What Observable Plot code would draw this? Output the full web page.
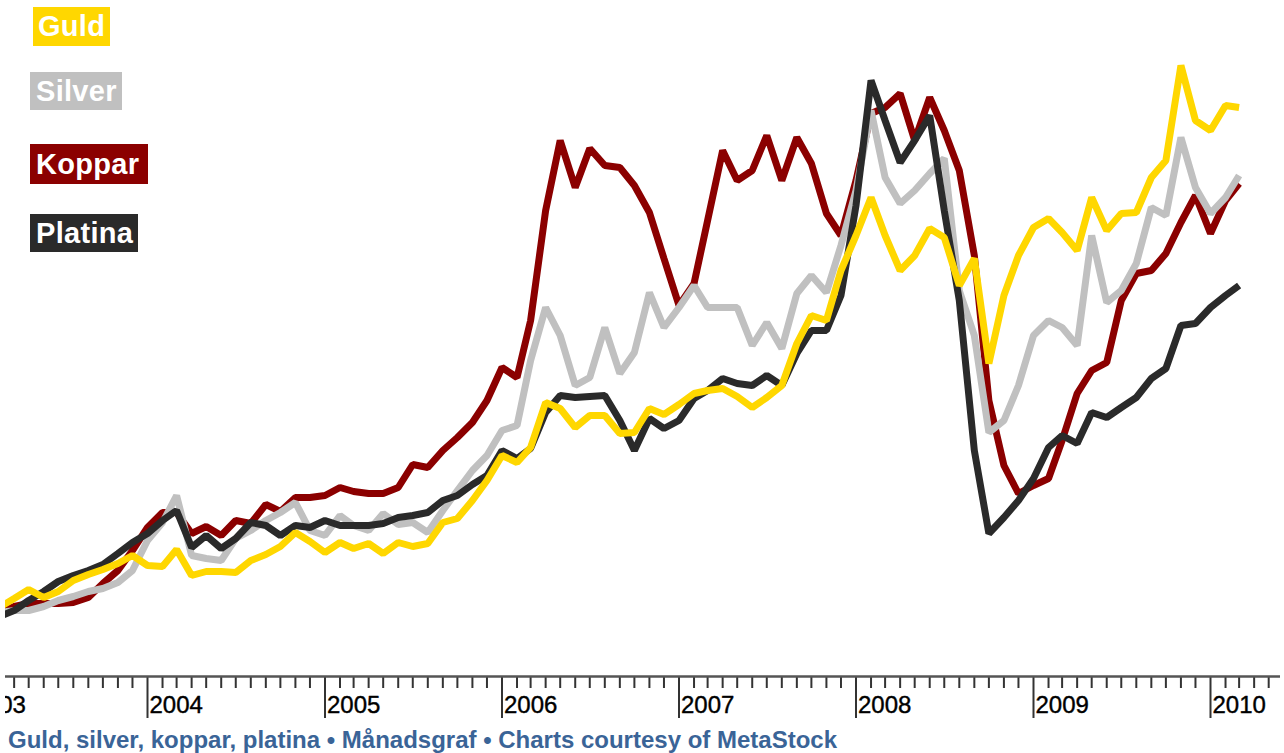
<!DOCTYPE html>
<html><head><meta charset="utf-8">
<script src="https://cdn.jsdelivr.net/npm/d3@7"></script>
<script src="https://cdn.jsdelivr.net/npm/@observablehq/plot@0.6"></script>
<style>
body{margin:0;background:#fff;font-family:"Liberation Sans",Arial,sans-serif;}
#wrap{position:relative;width:1284px;height:753px;overflow:hidden;background:#fff;}
#chart svg{display:block;clip-path:inset(0 0 0 5px);}
.lg{position:absolute;color:#fff;font-weight:bold;font-size:29px;line-height:33px;box-sizing:border-box;letter-spacing:0.3px;white-space:nowrap;}
#caption{position:absolute;left:8px;top:728px;font-weight:bold;font-size:24px;line-height:24px;color:#3a6497;white-space:nowrap;}
</style></head>
<body><div id="wrap"><div id="chart"></div><div id="legend"></div><div id="caption"></div></div>
<script>
// Monthly series, March 2003 – March 2010 (relative index)
const firstMonth = new Date(Date.UTC(2003, 2, 1));
const lastMonthExcl = new Date(Date.UTC(2010, 3, 1));
const months = d3.utcMonth.range(firstMonth, lastMonthExcl);

const names = ["Guld", "Silver", "Koppar", "Platina"];

const guld = [69,78,87,79,85,96,102,107,113,121, 111,110,127,101,105,105,104,116,122,130,
  144,135,124,134,128,133,123,134,130,133, 154,158,176,196,221,214,229,274,268,249,
  261,261,243,244,268,262,272,283,286,288, 280,269,279,291,333,361,356,406,441,479,
  441,406,421,448,439,391,418,313,381,421, 449,458,444,426,479,446,463,464,499,516,
  611,556,546,571,569];

const silver = [64,66,66,70,76,80,85,88,94,106, 136,154,181,121,118,116,138,146,156,164,
  174,146,141,161,151,146,163,152,154,144, 166,186,206,221,246,251,316,369,341,291,
  299,349,303,324,384,349,369,391,369,369, 369,331,354,328,383,401,384,431,486,566,
  499,473,486,503,518,386,341,244,256,291, 341,356,349,331,441,374,386,413,469,461,
  539,489,463,479,501];

const koppar = [64,70,73,73,73,74,79,93,106,126, 149,164,164,143,150,141,156,153,172,165,
  179,179,181,189,185,183,183,189,212,209, 226,239,254,276,309,299,356,466,536,489,
  528,511,509,491,464,418,371,393,456,526, 496,506,541,496,539,513,463,441,496,563,
  569,583,536,579,546,506,421,276,211,183, 191,198,236,283,306,314,376,403,406,423,
  454,481,443,476,493];

const platina = [60,66,76,85,95,101,106,112,123,134, 143,156,166,129,141,128,138,154,151,141,
  151,149,156,151,151,151,153,159,161,164, 176,181,192,201,226,218,228,264,281,279,
  280,281,256,226,258,248,256,278,286,298, 293,291,301,291,323,346,346,381,471,596,
  556,514,536,561,466,376,226,143,159,176, 198,229,241,233,264,259,269,279,298,308,
  351,353,369,381,391];

const captionText = "Guld, silver, koppar, platina • Månadsgraf • Charts courtesy of MetaStock";

// styles
const colors = {Guld: "#FFD700", Silver: "#C0C0C0", Koppar: "#8B0000", Platina: "#2a2a2a"};
const seriesValues = {Guld: guld, Silver: silver, Koppar: koppar, Platina: platina};
const drawOrder = ["Koppar", "Silver", "Platina", "Guld"];

const rows = drawOrder.flatMap(name => seriesValues[name].map((v, i) => ({name, date: months[i], value: v})));

const majors = d3.utcYear.range(new Date(Date.UTC(2003,0,1)), new Date(Date.UTC(2011,0,1)));
const minors = d3.utcMonth.range(new Date(Date.UTC(2003,0,1)), new Date(Date.UTC(2010,5,1))).filter(d => d.getUTCMonth() !== 0);

const plot = Plot.plot({
  width: 1284,
  height: 722,
  marginTop: 0,
  marginBottom: 46,
  marginLeft: 5,
  marginRight: 4,
  x: {type: "utc", domain: [new Date(Date.UTC(2004,0,1)), new Date(Date.UTC(2010,0,1))], range: [147, 1210], axis: null},
  y: {domain: [0, 676], axis: null},
  color: {domain: Object.keys(colors), range: Object.values(colors)},
  marks: [
    ...drawOrder.map(name => Plot.line(rows.filter(r => r.name === name), {
      x: "date", y: "value", stroke: colors[name], strokeWidth: 7,
      strokeLinejoin: "miter", strokeLinecap: "butt", clip: "frame"
    })),
    Plot.ruleX(minors, {x: d => d, y1: 0, y2: -12, stroke: "#333", strokeWidth: 2}),
    Plot.ruleX(majors, {x: d => d, y1: 0, y2: -42, stroke: "#333", strokeWidth: 2}),
    Plot.ruleY([0], {stroke: "#555", strokeWidth: 2.5}),
    Plot.text(majors, {x: d => d, y: -36, text: d => String(d.getUTCFullYear()), textAnchor: "start", lineAnchor: "bottom", dx: 2, fontSize: 24, fill: "#000", stroke: "#000", strokeWidth: 0.4, fontFamily: "Liberation Sans, Arial, sans-serif"})
  ]
});
document.getElementById("chart").appendChild(plot);

// legend
const boxes = {
  Guld: {left: 33, top: 7, width: 77, height: 39},
  Silver: {left: 30, top: 72, width: 92, height: 38},
  Koppar: {left: 30, top: 144, width: 118, height: 40},
  Platina: {left: 30, top: 214, width: 108, height: 38}
};
const lg = document.getElementById("legend");
for (const name of names) {
  const b = boxes[name];
  const el = document.createElement("div");
  el.className = "lg";
  el.textContent = name;
  Object.assign(el.style, {left: b.left + "px", top: b.top + "px", width: b.width + "px", height: b.height + "px",
    background: colors[name], paddingLeft: (name === "Guld" ? 5 : 6) + "px", paddingTop: ((b.height - 33) / 2) + "px"});
  el.style.lineHeight = "33px";
  lg.appendChild(el);
}
document.getElementById("caption").textContent = captionText;
</script>
</body></html>
